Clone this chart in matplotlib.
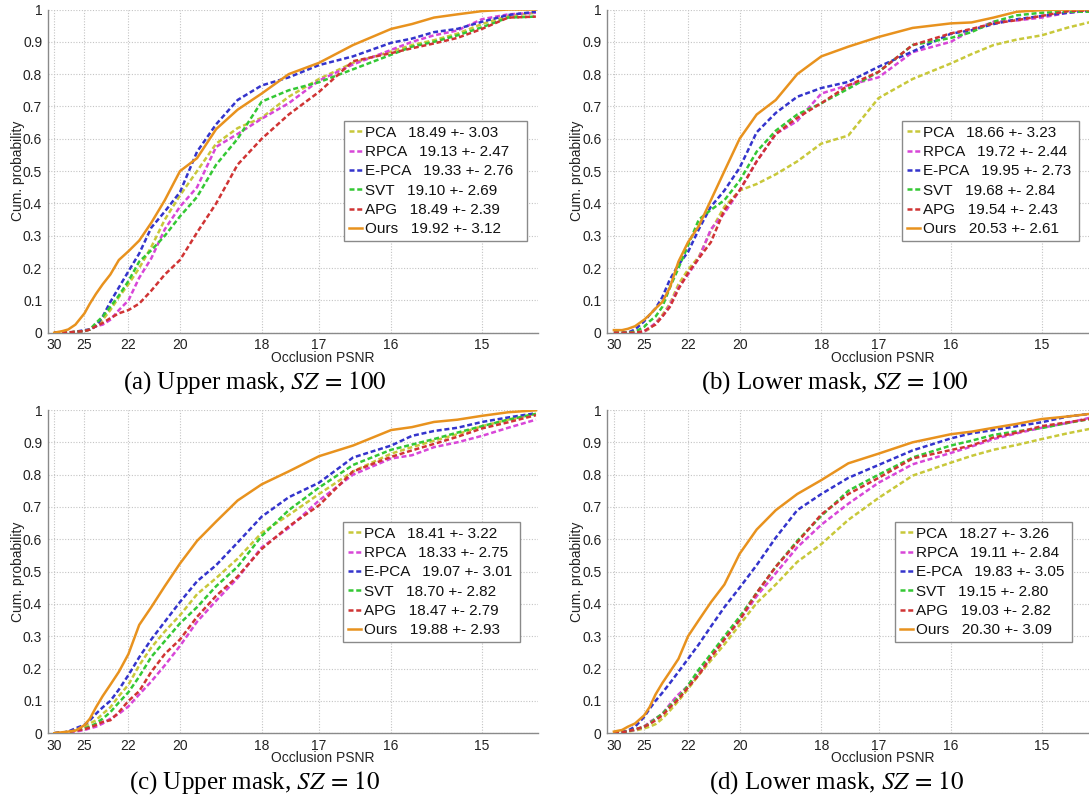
import numpy as np
import matplotlib
matplotlib.use("Agg")
import matplotlib.pyplot as plt

plt.rcParams['font.family'] = ['Liberation Sans', 'DejaVu Sans']
plt.rcParams['mathtext.fontset'] = 'stix'

# ---------------- data ----------------
psnr = [30, 28, 27, 26, 25, 24.5, 24, 23.5, 23, 22.5, 22, 21.5, 21, 20.5, 20,
        19.5, 19, 18.5, 18, 17.5, 17, 16.5, 16, 15.75, 15.5, 15.25, 15, 14.75, 14.5]
tick_psnr = [30, 25, 22, 20, 18, 17, 16, 15]
methods = ['PCA', 'RPCA', 'E-PCA', 'SVT', 'APG', 'Ours']

# (a) Upper mask, SZ = 100
a_pca = [0, 0, 0, 0.003, 0.005, 0.01, 0.02, 0.04, 0.07, 0.11, 0.15, 0.2, 0.265, 0.35, 0.425, 0.5, 0.585, 0.633, 0.665, 0.73, 0.785, 0.835, 0.87, 0.89, 0.905, 0.925, 0.955, 0.98, 0.99]
a_rpca = [0, 0, 0, 0.002, 0.005, 0.01, 0.02, 0.025, 0.04, 0.07, 0.10, 0.17, 0.23, 0.32, 0.39, 0.45, 0.575, 0.615, 0.662, 0.71, 0.78, 0.83, 0.875, 0.90, 0.92, 0.935, 0.97, 0.985, 0.99]
a_epca = [0, 0, 0, 0.003, 0.008, 0.01, 0.02, 0.05, 0.095, 0.14, 0.19, 0.245, 0.325, 0.375, 0.435, 0.56, 0.645, 0.72, 0.765, 0.79, 0.828, 0.855, 0.897, 0.91, 0.93, 0.94, 0.962, 0.983, 0.993]
a_svt = [0, 0, 0, 0.003, 0.005, 0.01, 0.03, 0.05, 0.08, 0.115, 0.16, 0.22, 0.255, 0.30, 0.36, 0.42, 0.52, 0.60, 0.715, 0.75, 0.775, 0.815, 0.86, 0.885, 0.90, 0.92, 0.945, 0.975, 0.978]
a_apg = [0, 0, 0.001, 0.003, 0.005, 0.01, 0.02, 0.03, 0.045, 0.06, 0.07, 0.09, 0.13, 0.18, 0.225, 0.31, 0.40, 0.52, 0.60, 0.675, 0.745, 0.84, 0.865, 0.88, 0.895, 0.912, 0.94, 0.975, 0.978]
a_ours = [0, 0.005, 0.01, 0.025, 0.06, 0.09, 0.12, 0.15, 0.18, 0.225, 0.252, 0.285, 0.34, 0.41, 0.50, 0.54, 0.63, 0.69, 0.74, 0.80, 0.835, 0.89, 0.94, 0.955, 0.975, 0.985, 0.995, 1.0, 1.0]
a_stats = ['18.49 +- 3.03', '19.13 +- 2.47', '19.33 +- 2.76', '19.10 +- 2.69', '18.49 +- 2.39', '19.92 +- 3.12']

# (b) Lower mask, SZ = 100
b_pca = [0, 0, 0, 0, 0.003, 0.012, 0.03, 0.055, 0.09, 0.15, 0.195, 0.235, 0.315, 0.39, 0.44, 0.46, 0.49, 0.53, 0.585, 0.61, 0.726, 0.785, 0.833, 0.862, 0.89, 0.907, 0.92, 0.944, 0.965]
b_rpca = [0, 0, 0, 0, 0.003, 0.015, 0.03, 0.05, 0.085, 0.14, 0.18, 0.23, 0.32, 0.37, 0.44, 0.53, 0.615, 0.655, 0.74, 0.766, 0.79, 0.868, 0.90, 0.935, 0.962, 0.966, 0.975, 0.99, 0.998]
b_epca = [0, 0, 0, 0.01, 0.035, 0.055, 0.075, 0.11, 0.165, 0.21, 0.25, 0.32, 0.39, 0.44, 0.51, 0.62, 0.68, 0.73, 0.757, 0.776, 0.823, 0.87, 0.925, 0.936, 0.955, 0.97, 0.98, 0.99, 0.998]
b_svt = [0, 0, 0, 0.003, 0.018, 0.035, 0.05, 0.08, 0.14, 0.2, 0.27, 0.35, 0.38, 0.41, 0.47, 0.56, 0.625, 0.675, 0.71, 0.755, 0.807, 0.89, 0.912, 0.93, 0.962, 0.982, 0.99, 0.993, 0.993]
b_apg = [0, 0, 0, 0, 0.005, 0.015, 0.025, 0.05, 0.08, 0.135, 0.185, 0.23, 0.28, 0.38, 0.44, 0.53, 0.615, 0.665, 0.71, 0.765, 0.807, 0.89, 0.926, 0.94, 0.957, 0.967, 0.98, 0.995, 0.998]
b_ours = [0.008, 0.008, 0.012, 0.02, 0.04, 0.055, 0.075, 0.095, 0.14, 0.22, 0.28, 0.33, 0.41, 0.50, 0.60, 0.675, 0.72, 0.80, 0.855, 0.885, 0.915, 0.943, 0.957, 0.96, 0.975, 0.993, 0.998, 1.0, 1.0]
b_stats = ['18.66 +- 3.23', '19.72 +- 2.44', '19.95 +- 2.73', '19.68 +- 2.84', '19.54 +- 2.43', '20.53 +- 2.61']

# (c) Upper mask, SZ = 10
c_pca = [0, 0.002, 0.004, 0.01, 0.02, 0.03, 0.04, 0.06, 0.08, 0.115, 0.15, 0.21, 0.265, 0.315, 0.365, 0.43, 0.48, 0.54, 0.62, 0.675, 0.74, 0.81, 0.865, 0.885, 0.905, 0.925, 0.95, 0.97, 0.988]
c_rpca = [0, 0.002, 0.003, 0.005, 0.01, 0.015, 0.02, 0.03, 0.045, 0.06, 0.083, 0.12, 0.16, 0.21, 0.27, 0.345, 0.41, 0.48, 0.575, 0.635, 0.72, 0.80, 0.85, 0.86, 0.885, 0.90, 0.92, 0.945, 0.97]
c_epca = [0, 0.002, 0.005, 0.015, 0.026, 0.04, 0.06, 0.08, 0.10, 0.135, 0.18, 0.235, 0.29, 0.345, 0.406, 0.47, 0.52, 0.59, 0.67, 0.73, 0.775, 0.853, 0.89, 0.92, 0.935, 0.945, 0.963, 0.977, 0.99]
c_svt = [0, 0.002, 0.004, 0.008, 0.015, 0.02, 0.03, 0.045, 0.065, 0.095, 0.127, 0.175, 0.236, 0.285, 0.34, 0.39, 0.455, 0.515, 0.61, 0.69, 0.76, 0.83, 0.877, 0.893, 0.91, 0.93, 0.95, 0.97, 0.988]
c_apg = [0, 0.002, 0.004, 0.008, 0.012, 0.018, 0.025, 0.035, 0.04, 0.065, 0.10, 0.13, 0.19, 0.245, 0.29, 0.36, 0.425, 0.485, 0.57, 0.64, 0.705, 0.81, 0.855, 0.875, 0.895, 0.917, 0.943, 0.962, 0.984]
c_ours = [0, 0.003, 0.005, 0.008, 0.025, 0.045, 0.08, 0.115, 0.15, 0.19, 0.245, 0.335, 0.39, 0.455, 0.525, 0.595, 0.655, 0.72, 0.77, 0.81, 0.857, 0.89, 0.938, 0.947, 0.963, 0.97, 0.982, 0.993, 0.999]
c_stats = ['18.41 +- 3.22', '18.33 +- 2.75', '19.07 +- 3.01', '18.70 +- 2.82', '18.47 +- 2.79', '19.88 +- 2.93']

# (d) Lower mask, SZ = 10
d_pca = [0.0, 0.003, 0.005, 0.008, 0.015, 0.02, 0.028, 0.045, 0.07, 0.1, 0.137, 0.18, 0.225, 0.275, 0.335, 0.403, 0.46, 0.53, 0.585, 0.66, 0.728, 0.797, 0.837, 0.858, 0.877, 0.892, 0.91, 0.928, 0.945]
d_rpca = [0.002, 0.004, 0.006, 0.01, 0.02, 0.035, 0.045, 0.06, 0.09, 0.12, 0.146, 0.19, 0.235, 0.29, 0.35, 0.424, 0.495, 0.575, 0.645, 0.71, 0.775, 0.832, 0.867, 0.887, 0.91, 0.928, 0.945, 0.96, 0.98]
d_epca = [0.002, 0.004, 0.008, 0.02, 0.05, 0.075, 0.10, 0.125, 0.155, 0.19, 0.23, 0.275, 0.33, 0.39, 0.45, 0.52, 0.605, 0.69, 0.74, 0.79, 0.83, 0.875, 0.912, 0.928, 0.938, 0.95, 0.962, 0.98, 0.99]
d_svt = [0.0, 0.003, 0.006, 0.012, 0.02, 0.03, 0.045, 0.06, 0.085, 0.11, 0.148, 0.197, 0.245, 0.30, 0.36, 0.434, 0.515, 0.595, 0.672, 0.75, 0.80, 0.853, 0.89, 0.905, 0.923, 0.934, 0.944, 0.96, 0.975]
d_apg = [0.0, 0.003, 0.006, 0.012, 0.02, 0.028, 0.04, 0.055, 0.08, 0.105, 0.142, 0.18, 0.235, 0.29, 0.35, 0.434, 0.515, 0.59, 0.677, 0.74, 0.79, 0.85, 0.876, 0.89, 0.915, 0.93, 0.95, 0.962, 0.975]
d_ours = [0.005, 0.01, 0.02, 0.03, 0.055, 0.08, 0.12, 0.155, 0.19, 0.23, 0.30, 0.35, 0.405, 0.46, 0.555, 0.63, 0.69, 0.74, 0.783, 0.835, 0.865, 0.90, 0.925, 0.933, 0.945, 0.957, 0.972, 0.98, 0.99]
d_stats = ['18.27 +- 3.26', '19.11 +- 2.84', '19.83 +- 3.05', '19.15 +- 2.80', '19.03 +- 2.82', '20.30 +- 3.09']

captions = ['(a) Upper mask, $SZ\\,=\\,100$', '(b) Lower mask, $SZ\\,=\\,100$',
            '(c) Upper mask, $SZ\\,=\\,10$', '(d) Lower mask, $SZ\\,=\\,10$']

# ---------------- style ----------------
colors = ['#c8c83a', '#d846d8', '#3434cc', '#34c834', '#d03434', '#e8921e']
dash = (0, (2.0, 1.1))


def to_mse(p):
    return 65025.0 * 10 ** (-np.asarray(p, dtype=float) / 10.0)


W, H = 1089.0, 798.0
fig = plt.figure(figsize=(W / 100, H / 100), dpi=100)


def rect(left, top, width=490.3, height=323.2):
    return [left / W, 1 - (top + height) / H, width / W, height / H]


# legend box: (left px, top px, width px)
panels = [
    (rect(47.7, 9.5), [a_pca, a_rpca, a_epca, a_svt, a_apg, a_ours], a_stats, (344, 121, 183)),
    (rect(607.3, 9.5), [b_pca, b_rpca, b_epca, b_svt, b_apg, b_ours], b_stats, (902, 121, 177)),
    (rect(47.7, 410), [c_pca, c_rpca, c_epca, c_svt, c_apg, c_ours], c_stats, (343, 522, 177)),
    (rect(607.3, 410), [d_pca, d_rpca, d_epca, d_svt, d_apg, d_ours], d_stats, (895, 522, 177)),
]

xmse = to_mse(psnr)
for pos, series, stats, legpos in panels:
    ax = fig.add_axes(pos)
    handles = []
    for i, (vals, name, st) in enumerate(zip(series, methods, stats)):
        ls = '-' if name == 'Ours' else dash
        h, = ax.plot(xmse, vals, color=colors[i], linestyle=ls, linewidth=1.8,
                     label=f'{name}   {st}', zorder=3 + i)
        handles.append(h)
    ax.set_xlim(34.3, 2317)
    ax.set_ylim(0, 1)
    ax.set_xticks(to_mse(tick_psnr))
    ax.set_xticklabels([str(t) for t in tick_psnr])
    ax.set_yticks(np.arange(0, 1.01, 0.1))
    ax.set_yticklabels(['0', '0.1', '0.2', '0.3', '0.4', '0.5', '0.6', '0.7', '0.8', '0.9', '1'])
    ax.tick_params(length=0, labelsize=10, pad=4, colors='#222222')
    ax.grid(True, linestyle=(0, (1, 1.5)), color='#c4c4c4', linewidth=0.8)
    ax.set_axisbelow(True)
    for s in ['top', 'right']:
        ax.spines[s].set_visible(False)
    for s in ['left', 'bottom']:
        ax.spines[s].set_color('#8a8a8a')
        ax.spines[s].set_linewidth(1.0)
    ax.set_xlabel('Occlusion PSNR', fontsize=10, color='#222222')
    ax.xaxis.set_label_coords(0.5615, -0.056)
    ax.set_ylabel('Cum. probability', fontsize=10, color='#222222')
    ax.yaxis.set_label_coords(-0.047, 0.5)
    lx, ly, lw_ = legpos
    leg = ax.legend(handles=handles, loc='upper left', mode='expand',
                    bbox_to_anchor=(lx / W, 1 - ly / H, lw_ / W, 0),
                    bbox_transform=fig.transFigure, borderaxespad=0,
                    fontsize=11, handlelength=0.9, handletextpad=0.15,
                    labelspacing=0.35, borderpad=0.3, fancybox=False,
                    framealpha=1, edgecolor='#8a8a8a')
    leg.get_frame().set_linewidth(1.0)
    for t in leg.get_texts():
        t.set_color('#111111')

cap_pos = [(255, 383), (835, 383), (255, 783), (837, 783)]
for (cx, cy), cap in zip(cap_pos, captions):
    fig.text(cx / W, 1 - cy / H, cap, ha='center', va='center', fontsize=18,
             family=['Liberation Serif', 'DejaVu Serif'])

fig.savefig('out.png', dpi=100)
